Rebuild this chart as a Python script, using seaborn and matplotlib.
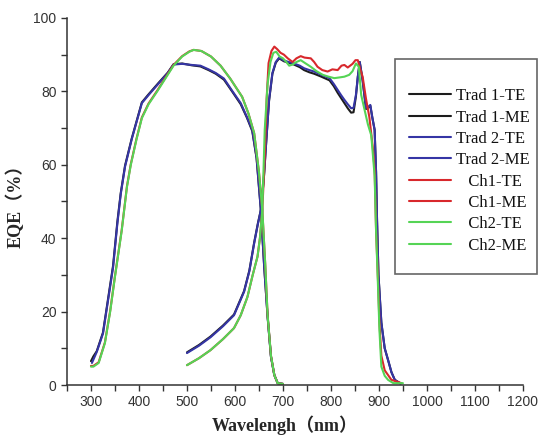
import matplotlib
matplotlib.use('Agg')
import matplotlib.pyplot as plt
import matplotlib.patches as mpatches
from matplotlib.ticker import MultipleLocator
import seaborn as sns
import pandas as pd

# ---- data ----
# top cell (TE) curves
trad1_te_wl = [300, 305, 312, 325, 346, 355, 362, 371, 385, 400, 406, 420, 440, 460, 472, 490, 510, 528, 545,
               560, 577, 595, 612, 625, 636, 645, 654, 661, 668, 675, 682, 689, 700]
trad1_te_eqe = [6.5, 7.8, 9.2, 14.3, 32.5, 44.5, 52.3, 59.8, 67.2, 74.2, 77.0, 79.2, 82.2, 85.1, 87.4, 87.6,
                87.1, 86.8, 85.8, 84.8, 83.2, 79.8, 76.5, 72.8, 69.2, 61.8, 47.5, 32, 18.6, 7.7, 2.7, 0.5, 0.3]
trad2_te_wl = [302, 307, 312, 325, 346, 355, 362, 371, 385, 400, 406, 420, 440, 460, 472, 490, 510, 528, 545,
               560, 577, 595, 612, 625, 636, 645, 654, 661, 668, 675, 682, 689, 700]
trad2_te_eqe = [6.0, 7.5, 9.0, 14.0, 32.0, 44.0, 52.0, 59.5, 67.0, 74.0, 76.8, 79.0, 82.0, 85.0, 87.3, 87.5,
                87.2, 87.0, 86.0, 85.0, 83.5, 80.0, 76.8, 73.0, 69.5, 62.0, 47.7, 32, 18.6, 7.7, 2.7, 0.5, 0.3]
ch1_te_wl = [300, 305, 316, 329, 340, 350, 364, 375, 383, 395, 406, 420, 438, 455, 472, 490, 505, 514, 530,
             550, 570, 590, 605, 615, 628, 640, 650, 657, 663, 668, 675, 682, 689, 700]
ch1_te_eqe = [5.2, 5.2, 6.2, 11.6, 20.2, 29.7, 42.2, 54.2, 60.2, 67.2, 72.9, 76.7, 80.2, 83.7, 87.2, 89.6,
              90.9, 91.3, 91.0, 89.5, 87.0, 83.5, 80.5, 78.5, 74.0, 68.6, 58.0, 47.7, 33, 19, 8, 2.7, 0.5, 0.3]
ch2_te_wl = [300, 305, 316, 329, 340, 350, 364, 375, 383, 395, 406, 420, 438, 455, 472, 490, 505, 514, 530,
             550, 570, 590, 605, 615, 628, 640, 650, 657, 663, 668, 675, 682, 689, 700]
ch2_te_eqe = [5.0, 5.0, 6.0, 11.4, 20.0, 29.5, 42.0, 54.0, 60.0, 67.0, 72.7, 76.5, 80.0, 83.5, 87.0, 89.5,
              90.8, 91.3, 91.0, 89.5, 87.0, 83.5, 80.5, 78.5, 74.0, 68.6, 58.0, 47.7, 33, 19, 8, 2.7, 0.5, 0.3]

# bottom cell (ME) curves
trad1_me_wl = [500, 525, 549, 575, 598, 619, 630, 640, 648, 654, 660, 665, 671, 678, 685, 692, 702, 712, 723,
               735, 744, 755, 765, 780, 797, 806, 814, 821, 828, 835, 842, 847, 852, 856, 860, 866, 873, 878,
               882, 886, 891, 894, 896, 899, 905, 912, 919, 926, 933, 945]
trad1_me_eqe = [8.9, 10.9, 13.2, 16.2, 19.2, 25.6, 31.2, 38.8, 44.2, 47.7, 56, 66, 77.4, 84.8, 87.8, 89.0,
                88.2, 87.8, 87.3, 86.6, 85.8, 85.2, 84.8, 84.0, 83.0, 81.4, 79.6, 78.2, 76.8, 75.4, 74.2,
                74.3, 78.6, 84, 88, 83, 75.2, 75.6, 76.1, 73, 69.5, 58, 45, 30, 17, 10, 6.8, 3.5, 1.4, 0.4]
trad2_me_wl = [500, 525, 549, 575, 598, 619, 630, 640, 648, 654, 660, 665, 671, 678, 685, 692, 702, 712, 723,
               735, 744, 755, 765, 780, 797, 806, 814, 821, 828, 835, 842, 847, 852, 856, 860, 866, 873, 878,
               882, 886, 891, 894, 896, 899, 905, 912, 919, 926, 933, 945]
trad2_me_eqe = [8.7, 10.7, 13.0, 16.0, 19.0, 25.4, 31.0, 38.6, 44.0, 47.7, 56, 66, 77.6, 85.0, 88.0, 89.2,
                88.4, 88.0, 87.6, 87.0, 86.3, 85.8, 85.4, 84.5, 83.6, 82.0, 80.4, 79.0, 77.7, 76.5, 75.4,
                75.5, 79, 84, 88, 83, 75.5, 75.8, 76.3, 73, 69.5, 58, 45, 30, 17, 10, 6.8, 3.5, 1.4, 0.4]
ch1_me_wl = [500, 525, 549, 575, 598, 612, 626, 637, 647, 652, 657, 662, 666, 670, 676, 682, 688, 695, 702,
             710, 720, 728, 737, 745, 758, 765, 772, 782, 793, 803, 814, 822, 828, 835, 845, 851, 856, 861,
             866, 873, 880, 887, 891, 894, 898, 901, 905, 912, 926, 947]
ch1_me_eqe = [5.4, 7.3, 9.5, 12.5, 15.5, 19, 24, 30, 35, 40, 47.7, 62, 78, 87.7, 91, 92.2, 91.5, 90.5, 90,
              89, 88, 89, 89.6, 89.2, 89, 88, 86.7, 85.8, 85.4, 86, 85.8, 87, 87.2, 86.5, 87.5, 88.5,
              88.5, 86, 84, 78, 73, 65, 58.6, 42, 28.6, 17, 8, 4, 1.4, 0.5]
ch2_me_wl = [500, 525, 549, 575, 598, 612, 626, 637, 647, 652, 657, 662, 668, 674, 680, 686, 693, 700, 707,
             713, 720, 728, 737, 745, 758, 770, 783, 795, 807, 818, 828, 838, 845, 852, 858, 863, 870, 877,
             884, 891, 894, 898, 901, 905, 912, 919, 930, 950]
ch2_me_eqe = [5.4, 7.3, 9.5, 12.5, 15.5, 19, 24, 30, 35, 40, 47.7, 69.5, 82, 88, 90.5, 90.8, 89.5, 89, 88,
              87, 87.3, 88, 88.5, 87.8, 86.7, 85.5, 84.5, 84, 83.6, 83.8, 84, 84.5, 85.5, 87.6, 86.7, 79,
              75, 71, 68, 57, 42, 27, 15, 5, 2.5, 1.4, 0.5, 0.5]

series = [
    ('Trad 1-TE', trad1_te_wl, trad1_te_eqe, '#1c1c1c'),
    ('Trad 1-ME', trad1_me_wl, trad1_me_eqe, '#1c1c1c'),
    ('Trad 2-TE', trad2_te_wl, trad2_te_eqe, '#3535a5'),
    ('Trad 2-ME', trad2_me_wl, trad2_me_eqe, '#3535a5'),
    ('   Ch1-TE', ch1_te_wl, ch1_te_eqe, '#d8282c'),
    ('   Ch1-ME', ch1_me_wl, ch1_me_eqe, '#d8282c'),
    ('   Ch2-TE', ch2_te_wl, ch2_te_eqe, '#55d455'),
    ('   Ch2-ME', ch2_me_wl, ch2_me_eqe, '#55d455'),
]

sns.set_style('ticks')
plt.rcParams['font.family'] = ['Liberation Sans', 'DejaVu Sans']

fig = plt.figure(figsize=(5.38, 4.38), dpi=100)
ax = fig.add_axes([0.1245, 0.121, 0.8475, 0.838])

# draw each curve
for name, wl, eqe, col in series:
    df = pd.DataFrame({'wl': wl, 'eqe': eqe})
    sns.lineplot(data=df, x='wl', y='eqe', sort=False, estimator=None, color=col,
                 linewidth=1.5, label=name, ax=ax)

ax.set_xlim(250, 1200)
ax.set_ylim(0, 100)
ax.xaxis.set_minor_locator(MultipleLocator(50))
ax.yaxis.set_major_locator(MultipleLocator(20))
ax.yaxis.set_minor_locator(MultipleLocator(10))
ax.set_xticks(range(300, 1201, 100))
ax.tick_params(which='both', direction='out', length=4, width=1, colors='#333333',
               labelsize=10, labelcolor='#333333')
sns.despine(ax=ax)
for s in ['left', 'bottom']:
    ax.spines[s].set_color('#333333')
    ax.spines[s].set_linewidth(1.1)

lab_font = dict(family=['Liberation Serif', 'Noto Sans CJK SC'], weight='bold', size=13)
ax.set_xlabel('Wavelengh（nm）', **lab_font)
ax.set_ylabel('EQE（%）', **lab_font)
ax.xaxis.set_label_coords(0.478, -0.082)
ax.yaxis.set_label_coords(-0.092, 0.50)

# legend box, drawn separately to keep the extra top/bottom padding
fig.patches.append(mpatches.Rectangle((395 / 538, 1 - 274 / 438), 142 / 538, 215 / 438,
                                      transform=fig.transFigure, fill=False,
                                      edgecolor='#666666', linewidth=1.2))
leg = ax.legend(loc='upper left', bbox_to_anchor=(401 / 538, 1 - 80 / 438),
                bbox_transform=fig.transFigure, frameon=False, borderpad=0,
                prop={'family': 'Liberation Serif', 'size': 12},
                handlelength=2.5, handletextpad=0.3, labelspacing=0.32)
for t in leg.get_texts():
    t.set_color('#111111')

fig.savefig('out.png', dpi=100)
